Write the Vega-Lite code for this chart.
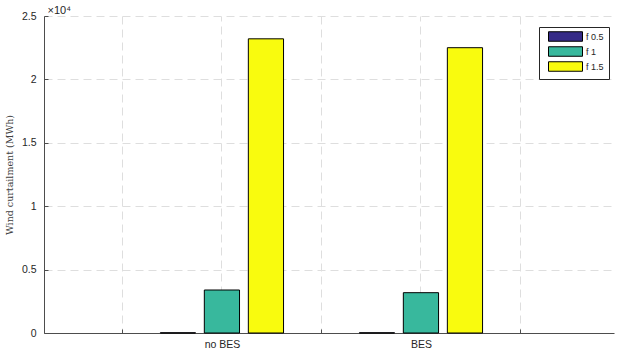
{
  "$schema": "https://vega.github.io/schema/vega-lite/v6.json",
  "width": 570,
  "height": 317,
  "autosize": {"type": "none"},
  "padding": {"left": 44, "top": 16, "right": 6, "bottom": 27},
  "background": "white",
  "data": {"values": [
    {"group": "no BES", "series": "f 0.5", "value": 15},
    {"group": "no BES", "series": "f 1", "value": 3390},
    {"group": "no BES", "series": "f 1.5", "value": 23200},
    {"group": "BES", "series": "f 0.5", "value": 15},
    {"group": "BES", "series": "f 1", "value": 3180},
    {"group": "BES", "series": "f 1.5", "value": 22500}
  ]},
  "config": {
    "view": {"stroke": null},
    "axis": {"labelFont": "Liberation Sans", "labelFontSize": 10.5, "labelColor": "#262626", "domainColor": "#4d4d4d", "tickColor": "#4d4d4d", "gridColor": "#dedede", "gridDash": [8, 5], "gridWidth": 1}
  },
  "layer": [
    {
      "mark": {"type": "bar", "opacity": 0},
      "encoding": {
        "x": {"field": "group", "type": "nominal", "sort": ["no BES", "BES"],
          "scale": {"domain": ["no BES", "BES"], "paddingInner": 0, "paddingOuter": 0.432, "align": 0.456},
          "axis": {"orient": "top", "grid": true, "labels": false, "ticks": false, "domain": false,
            "title": "×10⁴", "titleX": 3, "titleY": -3, "titleAngle": 0, "titleAlign": "left", "titleAnchor": "start", "titleBaseline": "alphabetic",
            "titleFont": "Liberation Sans", "titleFontSize": 11, "titleFontWeight": "normal", "titleColor": "#262626"}},
        "y": {"field": "value", "type": "quantitative", "scale": {"domain": [0, 25000]}}
      }
    },
    {
      "mark": {"type": "bar", "stroke": "#000000", "strokeWidth": 1},
      "encoding": {
        "x": {"field": "group", "type": "nominal", "sort": ["no BES", "BES"],
          "axis": {"orient": "bottom", "title": null, "labelAngle": 0, "tickBand": "extent", "grid": true, "ticks": true, "tickSize": -4, "labelPadding": 10}},
        "xOffset": {"field": "series", "type": "nominal", "sort": ["f 0.5", "f 1", "f 1.5"],
          "scale": {"paddingInner": 0.2, "paddingOuter": 0.861}},
        "y": {"field": "value", "type": "quantitative",
          "scale": {"domain": [0, 25000]},
          "axis": {"values": [0, 5000, 10000, 15000, 20000, 25000], "labelExpr": "datum.value / 10000", "tickSize": -4, "labelPadding": 12, "grid": true,
            "title": "Wind curtailment (MWh)", "titleFont": "DejaVu Serif", "titleFontSize": 9.5, "titleFontWeight": "normal", "titleColor": "#404040", "titlePadding": 7}},
        "color": {"field": "series", "type": "nominal", "sort": ["f 0.5", "f 1", "f 1.5"],
          "scale": {"domain": ["f 0.5", "f 1", "f 1.5"], "range": ["#352a87", "#38b89d", "#f9fb0e"]},
          "legend": {"orient": "none", "legendX": 495, "legendY": 11, "title": null, "symbolType": "M-6.8,-1.9H6.8V1.9H-6.8Z", "symbolSize": 25, "symbolOffset": 17, "symbolStrokeColor": "#000000", "symbolStrokeWidth": 1, "symbolOpacity": 1, "labelFont": "Liberation Sans", "labelFontSize": 9, "labelColor": "#262626", "labelOffset": 16, "strokeColor": "#262626", "fillColor": "white", "padding": 5, "rowPadding": 0}}
      }
    }
  ],
  "resolve": {"axis": {"x": "independent"}}
}
